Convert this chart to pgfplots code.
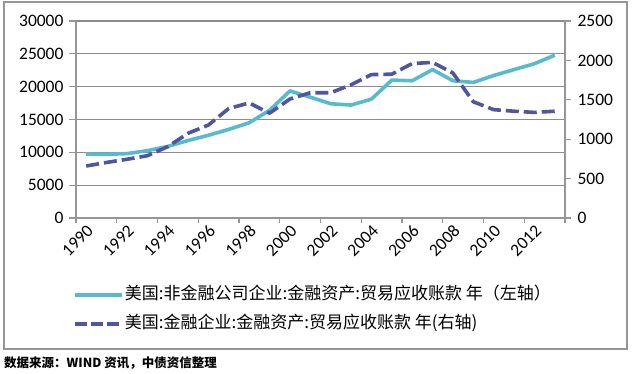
\documentclass[border=0pt]{standalone}
\usepackage{pgfplots}
\pgfplotsset{compat=1.18}
\usepackage{fontspec}
\setmainfont{Carlito}
\newfontfamily\cjk{Noto Sans CJK SC}
\definecolor{solidc}{RGB}{88,186,206}
\definecolor{dashc}{RGB}{78,86,160}
\definecolor{gridc}{RGB}{140,140,140}
\definecolor{axc}{RGB}{150,150,150}
\pgfplotstableread{
year v
1990 9750
1991 9700
1992 9800
1993 10250
1994 10900
1995 11800
1996 12600
1997 13500
1998 14500
1999 16400
2000 19350
2001 18400
2002 17400
2003 17200
2004 18100
2005 21000
2006 20900
2007 22600
2008 20900
2009 20650
2010 21700
2011 22600
2012 23500
2013 24800
}\nonfin
\pgfplotstableread{
year v
1990 660
1991 705
1992 745
1993 790
1994 905
1995 1075
1996 1180
1997 1390
1998 1460
1999 1330
2000 1510
2001 1590
2002 1590
2003 1690
2004 1820
2005 1825
2006 1960
2007 1975
2008 1840
2009 1475
2010 1375
2011 1355
2012 1340
2013 1355
}\fin
\begin{document}
\begin{tikzpicture}[x=1pt,y=1pt]
\useasboundingbox (0,0) rectangle (640,373);
\draw[axc, line width=1.2pt] (4,24) rectangle (627,371);
\pgfplotsset{
  common/.style={
    scale only axis, width=489pt, height=197pt,
    at={(76pt,155pt)}, anchor=south west,
    xmin=1989.5, xmax=2013.5,
    tick align=outside,
    axis line style={axc, line width=1.4pt},
    tick style={axc, line width=1.2pt},
    major tick length=7pt,
    ticklabel style={font=\fontsize{17.5}{20}\selectfont},
    /pgf/number format/assume math mode=true,
    /pgf/number format/1000 sep={},
    scaled y ticks=false,
  }
}
\begin{axis}[common,
  ymin=0, ymax=30000,
  axis x line*=bottom, axis y line*=left,
  ytick={0,5000,...,30000},
  ymajorgrids, grid style={gridc, line width=1.1pt},
  xtick={1990,1992,...,2012},
  every major x tick/.append style={draw=none},
  minor xtick={1989.5,1991.5,...,2013.5},
  minor tick length=5pt,
  every minor x tick/.append style={draw=axc, line width=1.2pt},
  xticklabel style={rotate=45, anchor=east, xshift=4pt, yshift=-5pt},
  yticklabel style={xshift=-2pt},
  legend cell align=left,
  legend style={at={(-0.012,-0.4645)}, anchor=west, draw=none, fill=none,
    font=\cjk\fontsize{17}{20}\selectfont, row sep=12pt,
    nodes={inner sep=0pt, text height=13pt, text depth=4pt}},
  legend image code/.code={\draw[#1] (0pt,0pt) -- (47pt,0pt);},
  legend columns=1,
]
\addplot[solidc, line width=3.6pt, line join=round] table[x=year,y=v]{\nonfin};
\addlegendentry{\hspace{1pt}美国:非金融公司企业:金融资产:贸易应收账款 年（左轴）}
\addlegendimage{dashc, line width=3.4pt, dash pattern=on 12pt off 4pt}
\addlegendentry{\hspace{1pt}美国:金融企业:金融资产:贸易应收账款 年(右轴)}
\end{axis}
\begin{axis}[common,
  ymin=0, ymax=2500,
  axis y line*=right, axis x line=none,
  ytick={0,500,...,2500},
  major tick length=6pt,
  yticklabel style={xshift=3pt},
]
\addplot[dashc, line width=3.6pt, dash pattern=on 13pt off 5pt, line join=round] table[x=year,y=v]{\fin};
\end{axis}
\node[anchor=west, inner sep=0pt, font=\cjk\bfseries\fontsize{12.5}{14}\selectfont] at (4,10) {数据来源：WIND 资讯，中债资信整理};
\end{tikzpicture}
\end{document}
